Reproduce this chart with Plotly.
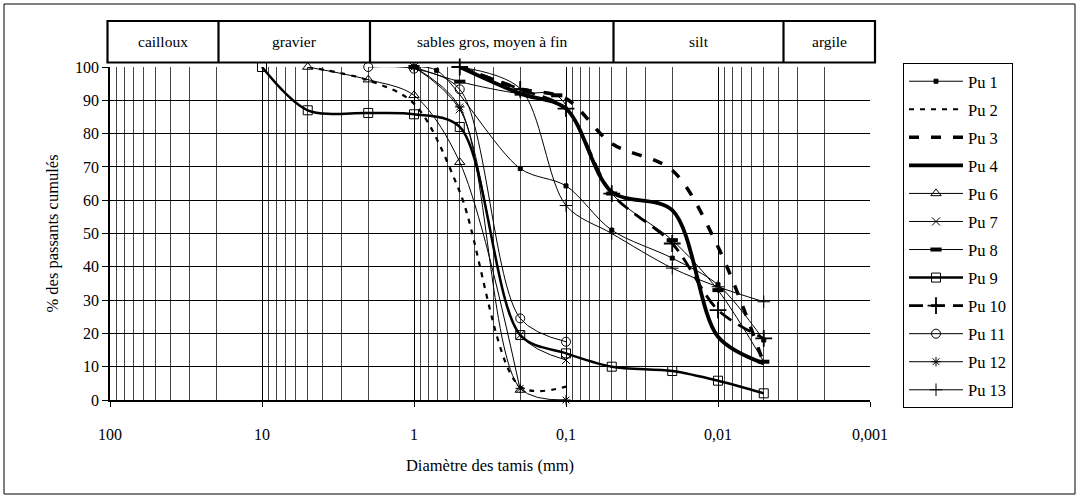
import plotly.graph_objects as go

# ---------------- data ----------------
series_names = ["Pu 1", "Pu 2", "Pu 3", "Pu 4", "Pu 6", "Pu 7", "Pu 8",
                "Pu 9", "Pu 10", "Pu 11", "Pu 12", "Pu 13"]

pu1_d = [1, 0.71, 0.2, 0.1, 0.05, 0.02, 0.01, 0.005]
pu1_p = [100, 99, 69.5, 64.3, 51, 42.6, 34.6, 18]

pu2_d = [5, 2, 1, 0.5, 0.2, 0.1]
pu2_p = [100, 96, 89, 62.5, 4, 4]

pu3_d = [0.5, 0.2, 0.1, 0.05, 0.02, 0.01, 0.005]
pu3_p = [100, 93.5, 90.5, 77, 69, 46, 11]

pu4_d = [0.5, 0.2, 0.1, 0.05, 0.02, 0.01, 0.005]
pu4_p = [100, 92, 87.5, 62.5, 57, 19, 11]

pu6_d = [5, 2, 1, 0.5, 0.2]
pu6_p = [100, 96.2, 91.5, 71.4, 3]

pu7_d = [1, 0.5, 0.2, 0.1]
pu7_p = [100, 87.3, 19.5, 12]

pu8_d = [1, 0.5, 0.2, 0.115, 0.05, 0.02, 0.01, 0.005]
pu8_p = [100, 95.6, 92, 91.5, 62, 48, 33, 11.5]

pu9_d = [10, 5, 2, 1, 0.5, 0.2, 0.1, 0.05, 0.02, 0.01, 0.005]
pu9_p = [100, 87, 86.2, 85.8, 82, 19.5, 14, 10, 8.7, 5.8, 2]

pu10_d = [0.5, 0.2, 0.1, 0.05, 0.02, 0.01, 0.005]
pu10_p = [100, 93.3, 87.5, 62, 47, 27, 18.5]

pu11_d = [2, 1, 0.5, 0.2, 0.1]
pu11_p = [100, 99.5, 93.3, 24.5, 17.5]

pu12_d = [1, 0.5, 0.2, 0.1]
pu12_p = [100, 88, 3.5, 0]

pu13_d = [0.5, 0.2, 0.1, 0.05, 0.02, 0.01, 0.005]
pu13_p = [100, 93.5, 58.4, 50, 39.6, 34, 29.5]

x_tick_vals = [100, 10, 1, 0.1, 0.01, 0.001]
x_tick_text = ["100", "10", "1", "0,1", "0,01", "0,001"]

band_labels = ["cailloux", "gravier", "sables gros, moyen à fin", "silt", "argile"]

# ---------------- styles ----------------
FONT = "Liberation Serif"
styles = {
    "Pu 1": dict(line=dict(width=1), marker=dict(symbol="square", size=4)),
    "Pu 2": dict(line=dict(width=2.2, dash="5px,6px"), marker=None),
    "Pu 3": dict(line=dict(width=3.5, dash="10px,12px"), marker=None),
    "Pu 4": dict(line=dict(width=3.8), marker=None),
    "Pu 6": dict(line=dict(width=1), marker=dict(symbol="triangle-up-open", size=9)),
    "Pu 7": dict(line=dict(width=1), marker=dict(symbol="x-thin-open", size=8)),
    "Pu 8": dict(line=dict(width=1), marker=dict(symbol="line-ew-open", size=8)),
    "Pu 9": dict(line=dict(width=2.5), marker=dict(symbol="square-open", size=9)),
    "Pu 10": dict(line=dict(width=2.8, dash="14px,8px"), marker=dict(symbol="cross-thin-open", size=12)),
    "Pu 11": dict(line=dict(width=1), marker=dict(symbol="circle-open", size=9)),
    "Pu 12": dict(line=dict(width=1), marker=dict(symbol="asterisk-open", size=8)),
    "Pu 13": dict(line=dict(width=1), marker=dict(symbol="cross-thin-open", size=9)),
}
marker_line_w = {"Pu 8": 4, "Pu 10": 1.8}

data = {
    "Pu 1": (pu1_d, pu1_p), "Pu 2": (pu2_d, pu2_p), "Pu 3": (pu3_d, pu3_p),
    "Pu 4": (pu4_d, pu4_p), "Pu 6": (pu6_d, pu6_p), "Pu 7": (pu7_d, pu7_p),
    "Pu 8": (pu8_d, pu8_p), "Pu 9": (pu9_d, pu9_p), "Pu 10": (pu10_d, pu10_p),
    "Pu 11": (pu11_d, pu11_p), "Pu 12": (pu12_d, pu12_p), "Pu 13": (pu13_d, pu13_p),
}

fig = go.Figure()
for i, name in enumerate(series_names):
    d, p = data[name]
    st = styles[name]
    line = dict(color="black", shape="spline", smoothing=0.9, **st["line"])
    if st["marker"] is None:
        mode = "lines"
        marker = None
    else:
        mode = "lines+markers"
        marker = dict(color="black", **st["marker"],
                      line=dict(color="black", width=marker_line_w.get(name, 1)))
    fig.add_trace(go.Scatter(x=d, y=p, name=name, mode=mode, line=line,
                             marker=marker, legendgroup=f"g{i}",
                             cliponaxis=False))

# plot area in pixels
W, H = 1079, 499
L, R, T, B = 110, 870, 67, 400


def px(xp):
    return (xp - L) / (R - L)


def py(yp):
    return (B - yp) / (B - T)


minor_vals = [k * 10.0 ** e for e in range(-3, 2) for k in range(2, 10)]

fig.update_layout(
    width=W, height=H,
    margin=dict(l=L, r=W - R, t=T, b=H - B, autoexpand=False),
    paper_bgcolor="white", plot_bgcolor="white",
    font=dict(family=FONT, size=16, color="black"),
    xaxis=dict(
        type="log", range=[2, -3],
        tickvals=x_tick_vals, ticktext=x_tick_text,
        ticks="outside", ticklen=5, tickcolor="black", tickwidth=1,
        showline=True, linecolor="black", linewidth=1.5,
        showgrid=True, gridcolor="black", gridwidth=1,
        minor=dict(tickvals=minor_vals, showgrid=True, gridcolor="#444444",
                   gridwidth=1, ticks=""),
        zeroline=False,
        ticklabelstandoff=14,
        tickfont=dict(size=16),
        automargin=False,
        title=dict(text="Diamètre des tamis (mm)", font=dict(size=16.5), standoff=17),
    ),
    yaxis=dict(
        range=[0, 100], dtick=10, tick0=0,
        ticks="outside", ticklen=6, tickcolor="black", tickwidth=1,
        showline=True, linecolor="black", linewidth=1.5,
        showgrid=True, gridcolor="black", gridwidth=1,
        zeroline=False,
        tickfont=dict(size=16),
        automargin=False,
        title=dict(text="% des passants cumulés", font=dict(size=16.5), standoff=12),
    ),
    legend=dict(
        x=px(903), y=py(63), xanchor="left", yanchor="top",
        bordercolor="black", borderwidth=1, bgcolor="white",
        font=dict(size=16.5, family=FONT),
        traceorder="grouped", tracegroupgap=3.6, itemwidth=54,
        maxheight=440,
    ),
    showlegend=True,
)

# header band with granulometric classes
band_edges_px = [107.5, 218.5, 370, 613.5, 783.5, 875]
hy0, hy1 = 21, 62.5
shapes = [dict(type="rect", xref="paper", yref="paper",
               x0=px(band_edges_px[0]), x1=px(band_edges_px[-1]),
               y0=py(hy1), y1=py(hy0), line=dict(color="black", width=2.2))]
for e in band_edges_px[1:-1]:
    shapes.append(dict(type="line", xref="paper", yref="paper",
                       x0=px(e), x1=px(e), y0=py(hy1), y1=py(hy0),
                       line=dict(color="black", width=2.2)))
# outer chart frame
shapes.append(dict(type="rect", xref="paper", yref="paper",
                   x0=px(4), x1=px(1075), y0=py(494), y1=py(4),
                   line=dict(color="black", width=1)))
fig.update_layout(shapes=shapes)

annotations = []
for lab, a, b in zip(band_labels, band_edges_px[:-1], band_edges_px[1:]):
    annotations.append(dict(text=lab, xref="paper", yref="paper",
                            x=px((a + b) / 2), y=py((hy0 + hy1) / 2),
                            showarrow=False, font=dict(size=15.5, family=FONT),
                            xanchor="center", yanchor="middle"))
fig.update_layout(annotations=annotations)

fig.write_html("out.html", config={"displayModeBar": False},
               post_script="document.body.style.margin='0';document.body.style.padding='0';")
